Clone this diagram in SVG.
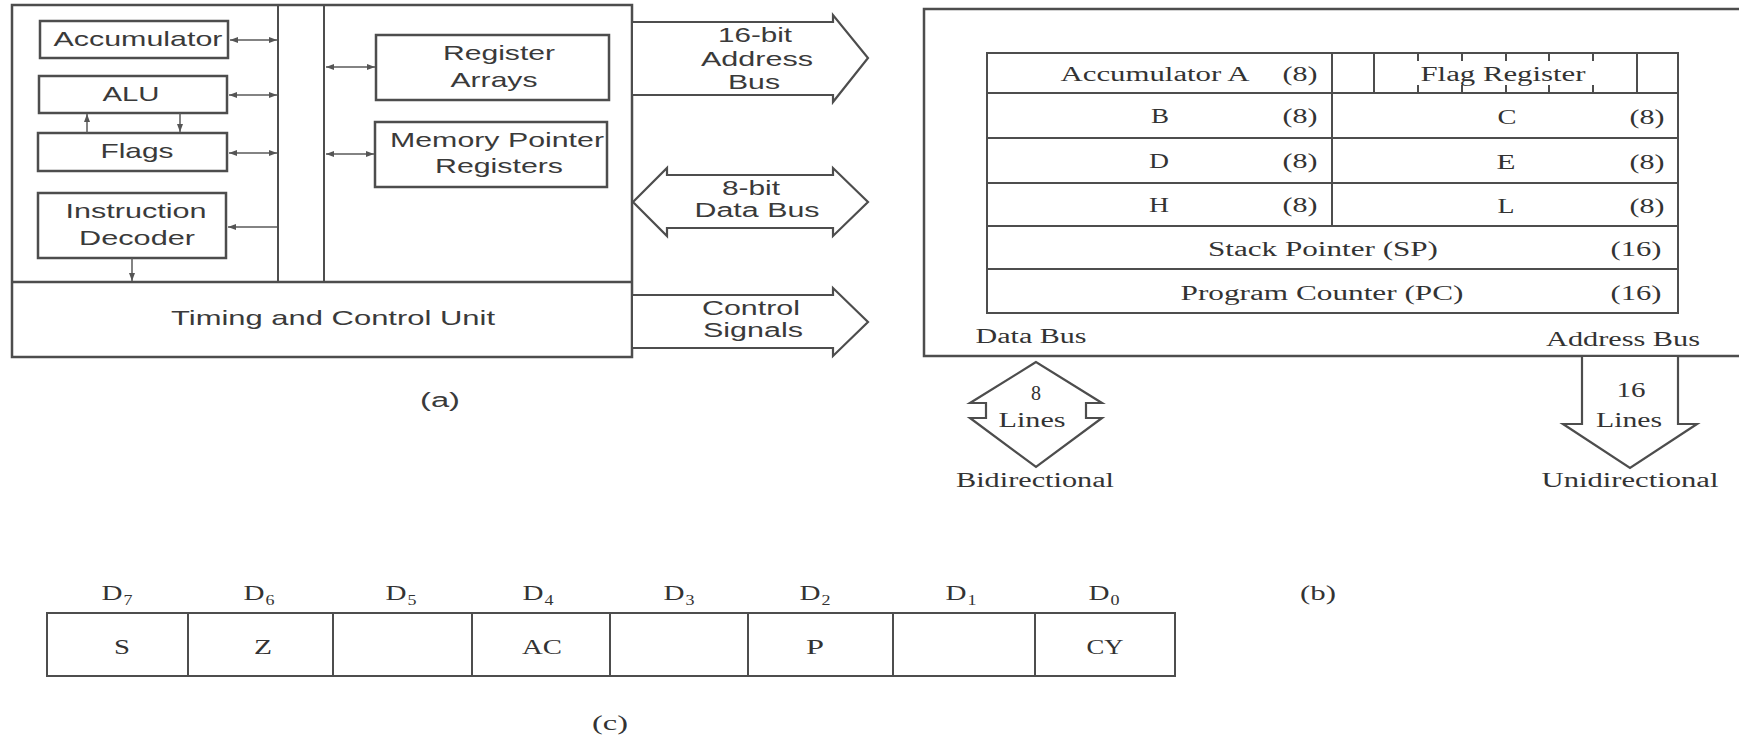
<svg xmlns="http://www.w3.org/2000/svg" width="1739" height="735" viewBox="0 0 1739 735">
<style>
.bx{fill:none;stroke:#4d4d4d;stroke-width:2.5}
.ln{fill:none;stroke:#4d4d4d;stroke-width:2}
.cn{fill:none;stroke:#5a5a5a;stroke-width:1.5}
.bus{fill:#fff;stroke:#4d4d4d;stroke-width:2.2;stroke-linejoin:miter}
.sa{font-family:"Liberation Sans",Arial,sans-serif;font-size:21px;fill:#3a3a3a;text-anchor:middle}
.sb{font-family:"Liberation Sans",Arial,sans-serif;font-size:20px;fill:#3a3a3a;text-anchor:middle}
.se{font-family:"Liberation Serif","Times New Roman",serif;font-size:20px;fill:#333;text-anchor:middle}
.sd{font-family:"Liberation Serif","Times New Roman",serif;font-size:22px;fill:#333;text-anchor:middle}
.ss{font-family:"Liberation Serif","Times New Roman",serif;font-size:14px;fill:#333;text-anchor:middle}
</style>
<defs>
<marker id="ah" viewBox="0 0 8 6" refX="8" refY="3" markerWidth="8" markerHeight="6" orient="auto-start-reverse" markerUnits="userSpaceOnUse">
<path d="M0,0 L8,3 L0,6 z" fill="#555"/>
</marker>
</defs>
<rect width="1739" height="735" fill="#fff"/>

<!-- (a) -->
<g id="cpu-a">
<rect class="bx" x="12" y="5" width="620" height="352"/>
<line class="bx" x1="12" y1="282" x2="632" y2="282"/>
<line class="ln" x1="278" y1="5" x2="278" y2="282"/>
<line class="ln" x1="324" y1="5" x2="324" y2="282"/>
</g>
<g id="accumulator"><rect class="bx" x="40" y="21" width="188" height="37"/><text class="sa" x="138" y="46" textLength="169" lengthAdjust="spacingAndGlyphs">Accumulator</text></g>
<g id="alu"><rect class="bx" x="39" y="76" width="188" height="37"/><text class="sa" x="131" y="101" textLength="57" lengthAdjust="spacingAndGlyphs">ALU</text></g>
<g id="flags"><rect class="bx" x="38" y="133" width="189" height="38"/><text class="sa" x="137" y="158" textLength="73" lengthAdjust="spacingAndGlyphs">Flags</text></g>
<g id="decoder"><rect class="bx" x="38" y="193" width="188" height="65"/><text class="sa" x="136" y="218" textLength="141" lengthAdjust="spacingAndGlyphs">Instruction</text><text class="sa" x="137" y="245" textLength="116" lengthAdjust="spacingAndGlyphs">Decoder</text></g>
<g id="register-arrays"><rect class="bx" x="376" y="35" width="233" height="65"/><text class="sa" x="499" y="60" textLength="112" lengthAdjust="spacingAndGlyphs">Register</text><text class="sa" x="494" y="87" textLength="87" lengthAdjust="spacingAndGlyphs">Arrays</text></g>
<g id="memory-pointer"><rect class="bx" x="375" y="122" width="232" height="65"/><text class="sa" x="497" y="147" textLength="214" lengthAdjust="spacingAndGlyphs">Memory Pointer</text><text class="sa" x="499" y="173" textLength="128" lengthAdjust="spacingAndGlyphs">Registers</text></g>
<g id="timing"><text class="sa" x="333" y="325" textLength="324" lengthAdjust="spacingAndGlyphs">Timing and Control Unit</text></g>

<g id="address-bus-a"><path class="bus" d="M633,22 H833 V15 L868,58 L833,102 V95 H633"/><text class="sb" x="755" y="42" textLength="74" lengthAdjust="spacingAndGlyphs">16-bit</text><text class="sb" x="757" y="66" textLength="112" lengthAdjust="spacingAndGlyphs">Address</text><text class="sb" x="754" y="89" textLength="52" lengthAdjust="spacingAndGlyphs">Bus</text></g>
<g id="data-bus-a"><path class="bus" d="M667,175 H833 V168 L868,202 L833,236 V228 H667 V236 L633,202 L667,168 Z"/><text class="sb" x="751" y="195" textLength="58" lengthAdjust="spacingAndGlyphs">8-bit</text><text class="sb" x="757" y="217" textLength="125" lengthAdjust="spacingAndGlyphs">Data Bus</text></g>
<g id="control-signals"><path class="bus" d="M633,295 H833 V288 L868,322 L833,356 V348 H633"/><text class="sb" x="751" y="315" textLength="98" lengthAdjust="spacingAndGlyphs">Control</text><text class="sb" x="753" y="337" textLength="100" lengthAdjust="spacingAndGlyphs">Signals</text></g>
<g id="label-a"><text class="sb" x="440" y="407" textLength="40" lengthAdjust="spacingAndGlyphs">(a)</text></g>

<g id="connectors">
<line class="cn" x1="230" y1="40" x2="277" y2="40" marker-start="url(#ah)" marker-end="url(#ah)"/>
<line class="cn" x1="229" y1="95" x2="277" y2="95" marker-start="url(#ah)" marker-end="url(#ah)"/>
<line class="cn" x1="229" y1="153" x2="277" y2="153" marker-start="url(#ah)" marker-end="url(#ah)"/>
<line class="cn" x1="277" y1="227" x2="228" y2="227" marker-end="url(#ah)"/>
<line class="cn" x1="326" y1="67" x2="375" y2="67" marker-start="url(#ah)" marker-end="url(#ah)"/>
<line class="cn" x1="326" y1="154" x2="374" y2="154" marker-start="url(#ah)" marker-end="url(#ah)"/>
<line class="cn" x1="87" y1="133" x2="87" y2="114" marker-end="url(#ah)"/>
<line class="cn" x1="180" y1="113" x2="180" y2="132" marker-end="url(#ah)"/>
<line class="cn" x1="132" y1="258" x2="132" y2="281" marker-end="url(#ah)"/>
</g>

<!-- (b) -->
<g id="register-set">
<rect class="bx" x="924" y="9" width="830" height="347"/>
<rect class="ln" x="987" y="53" width="691" height="260"/>
<line class="ln" x1="987" y1="93" x2="1678" y2="93"/>
<line class="ln" x1="987" y1="138" x2="1678" y2="138"/>
<line class="ln" x1="987" y1="183" x2="1678" y2="183"/>
<line class="ln" x1="987" y1="226" x2="1678" y2="226"/>
<line class="ln" x1="987" y1="269" x2="1678" y2="269"/>
<line class="ln" x1="1332" y1="53" x2="1332" y2="226"/>
<line class="ln" x1="1374" y1="53" x2="1374" y2="93"/>
<line class="ln" x1="1637" y1="53" x2="1637" y2="93"/>
<path class="ln" d="M1418,53 V61 M1462,53 V61 M1506,53 V61 M1549,53 V61 M1593,53 V61 M1418,85 V93 M1462,85 V93 M1506,85 V93 M1549,85 V93 M1593,85 V93"/>
<text class="se" x="1155" y="81" textLength="189" lengthAdjust="spacingAndGlyphs">Accumulator A</text>
<text class="se" x="1300" y="81" textLength="35" lengthAdjust="spacingAndGlyphs">(8)</text>
<text class="se" x="1503" y="81" textLength="165" lengthAdjust="spacingAndGlyphs">Flag Register</text>
<text class="se" x="1160" y="123" textLength="18" lengthAdjust="spacingAndGlyphs">B</text>
<text class="se" x="1300" y="123" textLength="35" lengthAdjust="spacingAndGlyphs">(8)</text>
<text class="se" x="1507" y="124" textLength="19" lengthAdjust="spacingAndGlyphs">C</text>
<text class="se" x="1647" y="124" textLength="35" lengthAdjust="spacingAndGlyphs">(8)</text>
<text class="se" x="1159" y="168" textLength="20" lengthAdjust="spacingAndGlyphs">D</text>
<text class="se" x="1300" y="168" textLength="35" lengthAdjust="spacingAndGlyphs">(8)</text>
<text class="se" x="1506" y="169" textLength="19" lengthAdjust="spacingAndGlyphs">E</text>
<text class="se" x="1647" y="169" textLength="35" lengthAdjust="spacingAndGlyphs">(8)</text>
<text class="se" x="1159" y="212" textLength="20" lengthAdjust="spacingAndGlyphs">H</text>
<text class="se" x="1300" y="212" textLength="35" lengthAdjust="spacingAndGlyphs">(8)</text>
<text class="se" x="1506" y="213" textLength="17" lengthAdjust="spacingAndGlyphs">L</text>
<text class="se" x="1647" y="213" textLength="35" lengthAdjust="spacingAndGlyphs">(8)</text>
<text class="se" x="1323" y="256" textLength="230" lengthAdjust="spacingAndGlyphs">Stack Pointer (SP)</text>
<text class="se" x="1636" y="256" textLength="51" lengthAdjust="spacingAndGlyphs">(16)</text>
<text class="se" x="1322" y="300" textLength="283" lengthAdjust="spacingAndGlyphs">Program Counter (PC)</text>
<text class="se" x="1636" y="300" textLength="51" lengthAdjust="spacingAndGlyphs">(16)</text>
<text class="se" x="1031" y="343" textLength="111" lengthAdjust="spacingAndGlyphs">Data Bus</text>
<text class="se" x="1623" y="346" textLength="154" lengthAdjust="spacingAndGlyphs">Address Bus</text>
</g>
<g id="data-bus-b"><path class="bus" d="M1036,362 L970,403 L986,403 L986,418 L970,418 L1036,467 L1102,418 L1086,418 L1086,403 L1102,403 Z"/><text class="se" x="1036" y="400">8</text><text class="se" x="1032" y="427" textLength="67" lengthAdjust="spacingAndGlyphs">Lines</text><text class="se" x="1035" y="487" textLength="158" lengthAdjust="spacingAndGlyphs">Bidirectional</text></g>
<g id="address-bus-b"><path class="bus" d="M1582,357 V424 H1563 L1630,468 L1697,424 H1678 V357"/><text class="se" x="1631" y="397" textLength="29" lengthAdjust="spacingAndGlyphs">16</text><text class="se" x="1629" y="427" textLength="66" lengthAdjust="spacingAndGlyphs">Lines</text><text class="se" x="1630" y="487" textLength="177" lengthAdjust="spacingAndGlyphs">Unidirectional</text></g>
<g id="label-b"><text class="se" x="1318" y="600" textLength="36" lengthAdjust="spacingAndGlyphs">(b)</text></g>

<!-- (c) -->
<g id="flag-register">
<rect class="ln" x="47" y="613" width="1128" height="63"/>
<path class="ln" d="M188,613 V676 M333,613 V676 M472,613 V676 M610,613 V676 M748,613 V676 M893,613 V676 M1035,613 V676"/>
<text class="sd" x="112" y="600" textLength="21" lengthAdjust="spacingAndGlyphs">D</text><text class="ss" x="128" y="605" textLength="9" lengthAdjust="spacingAndGlyphs">7</text>
<text class="sd" x="254" y="600" textLength="21" lengthAdjust="spacingAndGlyphs">D</text><text class="ss" x="270" y="605" textLength="9" lengthAdjust="spacingAndGlyphs">6</text>
<text class="sd" x="396" y="600" textLength="21" lengthAdjust="spacingAndGlyphs">D</text><text class="ss" x="412" y="605" textLength="9" lengthAdjust="spacingAndGlyphs">5</text>
<text class="sd" x="533" y="600" textLength="21" lengthAdjust="spacingAndGlyphs">D</text><text class="ss" x="549" y="605" textLength="9" lengthAdjust="spacingAndGlyphs">4</text>
<text class="sd" x="674" y="600" textLength="21" lengthAdjust="spacingAndGlyphs">D</text><text class="ss" x="690" y="605" textLength="9" lengthAdjust="spacingAndGlyphs">3</text>
<text class="sd" x="810" y="600" textLength="21" lengthAdjust="spacingAndGlyphs">D</text><text class="ss" x="826" y="605" textLength="9" lengthAdjust="spacingAndGlyphs">2</text>
<text class="sd" x="956" y="600" textLength="21" lengthAdjust="spacingAndGlyphs">D</text><text class="ss" x="972" y="605" textLength="9" lengthAdjust="spacingAndGlyphs">1</text>
<text class="sd" x="1099" y="600" textLength="21" lengthAdjust="spacingAndGlyphs">D</text><text class="ss" x="1115" y="605" textLength="9" lengthAdjust="spacingAndGlyphs">0</text>
<text class="sd" x="122" y="654" textLength="16" lengthAdjust="spacingAndGlyphs">S</text>
<text class="sd" x="263" y="654" textLength="18" lengthAdjust="spacingAndGlyphs">Z</text>
<text class="sd" x="542" y="654" textLength="40" lengthAdjust="spacingAndGlyphs">AC</text>
<text class="sd" x="815" y="654" textLength="18" lengthAdjust="spacingAndGlyphs">P</text>
<text class="sd" x="1105" y="654" textLength="37" lengthAdjust="spacingAndGlyphs">CY</text>
</g>
<g id="label-c"><text class="se" x="610" y="730" textLength="36" lengthAdjust="spacingAndGlyphs">(c)</text></g>
</svg>
